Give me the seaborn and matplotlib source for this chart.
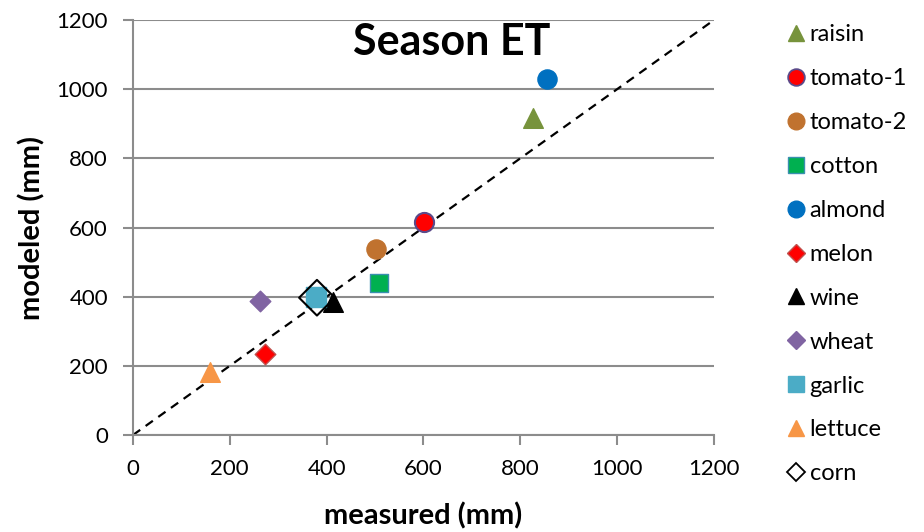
import matplotlib
matplotlib.use("Agg")
import matplotlib.pyplot as plt
import seaborn as sns
import pandas as pd
from matplotlib.lines import Line2D

crops = ["raisin", "tomato-1", "tomato-2", "cotton", "almond", "melon",
         "wine", "wheat", "garlic", "lettuce", "corn"]
measured = [826, 601, 502, 508, 855, 273, 413, 262, 378, 159, 380]
modeled = [917, 616, 537, 440, 1029, 234, 385, 388, 399, 182, 397]

face_colors = ["#77933C", "#FF0000", "#C0722F", "#00B050", "#0070C0", "#FF0000",
               "#000000", "#8064A2", "#4BACC6", "#F79646", "none"]
edge_colors = ["#77933C", "#5B4A8A", "#C0722F", "#3A8FB0", "#0070C0", "#C0504D",
               "#000000", "#8064A2", "#4BACC6", "#F79646", "#000000"]
markers = ["^", "o", "o", "s", "o", "D", "^", "D", "s", "^", "D"]
sizes = [200, 190, 190, 180, 190, 110, 200, 110, 200, 200, 330]

ticks = [0, 200, 400, 600, 800, 1000, 1200]

sns.set_theme(style="white")
plt.rcParams['font.family'] = ['Lato', 'DejaVu Sans']
plt.rcParams['text.color'] = 'black'
plt.rcParams['axes.labelcolor'] = 'black'

fig = plt.figure(figsize=(9.24, 5.32), dpi=100)
ax = fig.add_axes([0.1439, 0.1823, 0.6288, 0.7801])

df = pd.DataFrame({"crop": crops, "measured": measured, "modeled": modeled})

ax.plot([0, 1200], [0, 1200], linestyle=(0, (4, 3)), color="black", lw=1.6, zorder=2)

handles = []
for i, c in enumerate(crops):
    sub = df[df["crop"] == c]
    sns.scatterplot(data=sub, x="measured", y="modeled", ax=ax, marker=markers[i],
                    s=sizes[i], color=face_colors[i] if face_colors[i] != "none" else "white",
                    edgecolor=edge_colors[i], linewidth=1.5 if c in ("corn", "tomato-1") else 1,
                    zorder=3 + (1 if c == "corn" else 0), legend=False)
    if c == "corn":
        ax.collections[-1].set_facecolor("none")
    handles.append(Line2D([0], [0], marker=markers[i], linestyle="none",
                          markerfacecolor=face_colors[i], markeredgecolor=edge_colors[i],
                          markeredgewidth=1.3 if c in ("corn", "tomato-1") else 1,
                          markersize=12 if markers[i] != "D" else 9, label=c))

ax.set_xlim(0, 1200)
ax.set_ylim(0, 1200)
ax.set_xticks(ticks)
ax.set_yticks(ticks)
ax.set_xticklabels([str(t) for t in ticks], fontsize=16)
ax.set_yticklabels([str(t) for t in ticks], fontsize=16)
ax.yaxis.grid(True, color="#8C8C8C", lw=1.5)
ax.xaxis.grid(False)
for side in ["top", "right"]:
    ax.spines[side].set_visible(False)
for side in ["left", "bottom"]:
    ax.spines[side].set_color("#8C8C8C")
    ax.spines[side].set_linewidth(1.5)
ax.tick_params(axis="both", which="both", direction="out", length=7, width=1.5,
               color="#8C8C8C", labelcolor="black", left=True, bottom=True)
ax.tick_params(axis="y", pad=11)
ax.tick_params(axis="x", pad=10)

ax.set_xlabel("measured (mm)", fontsize=21, fontweight="bold", labelpad=17)
ax.set_ylabel("modeled (mm)", fontsize=21, fontweight="bold", labelpad=8)
ax.text(0.549, 0.947, "Season ET", transform=ax.transAxes, ha="center", va="center",
        fontsize=31, fontweight="bold")

fig.legend(handles=handles, loc="upper left", bbox_to_anchor=(0.838, 0.972),
           frameon=False, fontsize=17, handletextpad=0.1, labelspacing=0.97,
           handlelength=1.0, borderaxespad=0)

fig.savefig("out.png", dpi=100)
